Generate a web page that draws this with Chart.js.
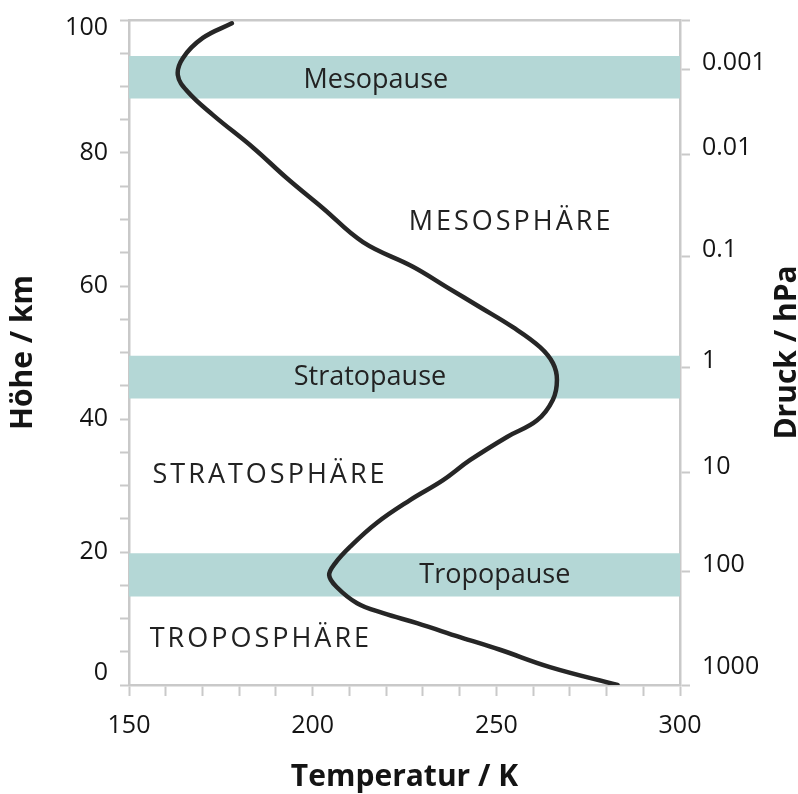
<!DOCTYPE html>
<html lang="de">
<head>
<meta charset="utf-8">
<title>Temperaturprofil der Atmosphäre</title>
<script src="https://cdn.jsdelivr.net/npm/chart.js@4/dist/chart.umd.min.js"></script>
<style>
  html, body { margin: 0; padding: 0; background: #fff; }
  #wrap { position: relative; width: 798px; height: 794px; }
</style>
</head>
<body>
<div id="wrap"><canvas id="chart"></canvas></div>
<script>
// Temperaturprofil: Höhe in km, Temperatur in K
const heights = [0, 2.7, 5.3, 7.2, 9.3, 10.8, 12.3, 14.7, 16.5, 18.3, 20.8, 24.4, 27.8, 30.8, 33.8, 37.3, 39.8, 42.9, 45.9, 48.4, 50.8, 53.8, 56.8, 59.8, 62.9, 66.6, 71.7, 76.2, 80.8, 85.7, 89.2, 91.7, 94.3, 97.3, 99.5]
const temps   = [283, 264.6, 251, 240.1, 228.4, 219.2, 212.1, 206.6, 204.5, 206.1, 210.2, 217.5, 226.5, 235.5, 242.8, 252.9, 261.1, 265.4, 266.5, 265.4, 261.9, 254.5, 245.6, 236.6, 227.3, 213.7, 202.8, 193, 183.8, 172.9, 166, 163.3, 164.7, 170.1, 178]

// Pausen (Bänder) in km
const bandNames  = ['Mesopause', 'Stratopause', 'Tropopause']
const bandTop    = [94.6, 49.5, 19.8]
const bandBottom = [88.2, 43.1, 13.3]
const bandLabelT = [217.2, 215.6, 249.6]
const bandLabelH = [89.8, 45.1, 15.4]

// Schichten
const zoneNames  = ['MESOSPHÄRE', 'STRATOSPHÄRE', 'TROPOSPHÄRE']
const zoneLabelT = [254, 188.4, 185.9]
const zoneLabelH = [68.4, 30.4, 5.7]

// Achsen
const tempTicks       = [150, 200, 250, 300]
const heightTicks     = [0, 20, 40, 60, 80, 100]
const pressureLabels  = ['1000', '100', '10', '1', '0.1', '0.01', '0.001']
const pressureHeights = [0, 17.1, 31.9, 47.8, 64.5, 79.8, 92.6]

const axisGrey  = '#c9c9c9'
const bandColor = '#b4d7d6'
const textColor = '#141414'

Chart.defaults.font.family = '"Open Sans", sans-serif'
Chart.defaults.font.weight = '500'
Chart.defaults.color = textColor

const textPlugin = {
  id: 'atmoText',
  afterDatasetsDraw(chart) {
    const { ctx, scales: { x, y } } = chart
    ctx.save()
    ctx.fillStyle = '#222'
    ctx.textAlign = 'center'
    ctx.textBaseline = 'alphabetic'
    ctx.font = '500 27px "Open Sans"'
    bandNames.forEach((name, i) => {
      ctx.fillText(name, x.getPixelForValue(bandLabelT[i]), y.getPixelForValue(bandLabelH[i]))
    })
    ctx.letterSpacing = '3px'
    zoneNames.forEach((name, i) => {
      ctx.fillText(name, x.getPixelForValue(zoneLabelT[i]), y.getPixelForValue(zoneLabelH[i]))
    })
    ctx.restore()
  },
  afterDraw(chart) {
    // rechter Achsentitel liest von unten nach oben
    const { ctx, chartArea } = chart
    ctx.save()
    ctx.translate(796, (chartArea.top + chartArea.bottom) / 2)
    ctx.rotate(-Math.PI / 2)
    ctx.fillStyle = textColor
    ctx.font = 'bold 30px "Open Sans"'
    ctx.textAlign = 'center'
    ctx.textBaseline = 'alphabetic'
    ctx.fillText('Druck / hPa', 0, 0)
    ctx.restore()
  }
}

const bandSets = bandNames.map((name, i) => ({
  label: name,
  data: [{ x: 150, y: bandTop[i] }, { x: 300, y: bandTop[i] }],
  showLine: true,
  borderWidth: 0,
  borderColor: 'rgba(0,0,0,0)',
  backgroundColor: bandColor,
  pointRadius: 0,
  fill: { value: bandBottom[i] },
  order: 2
}))

const grid = (len) => ({ drawOnChartArea: false, drawTicks: true, tickLength: len, tickColor: axisGrey, tickWidth: 2 })
const border = { color: axisGrey, width: 2.5 }
// Randbeschriftungen sollen den Plotbereich nicht verschieben
const fixSize = (w, h) => s => {
  if (w != null) s.width = w
  if (h != null) s.height = h
  s.paddingTop = 0
  s.paddingBottom = 0
  s.paddingLeft = 0
  s.paddingRight = 0
}

new Chart(document.getElementById('chart'), {
  type: 'scatter',
  data: {
    datasets: [
      {
        label: 'Temperatur',
        data: temps.map((t, i) => ({ x: t, y: heights[i] })),
        showLine: true,
        borderColor: '#262626',
        borderWidth: 4.5,
        borderCapStyle: 'round',
        borderJoinStyle: 'round',
        pointRadius: 0,
        tension: 0.4,
        fill: false,
        order: 0
      },
      ...bandSets
    ]
  },
  options: {
    responsive: true,
    maintainAspectRatio: false,
    animation: false,
    layout: { padding: 0 },
    plugins: { legend: { display: false }, tooltip: { enabled: false } },
    scales: {
      x: {
        type: 'linear', position: 'bottom', min: 150, max: 300,
        ticks: {
          stepSize: 10, maxTicksLimit: 100, autoSkip: false, maxRotation: 0, padding: 15,
          color: textColor, font: { size: 25 },
          callback: v => tempTicks.includes(v) ? String(v) : ''
        },
        grid: grid(11),
        border,
        title: { display: true, text: 'Temperatur / K', color: textColor, font: { size: 30, weight: 'bold', lineHeight: 1.1 }, padding: { top: 0, bottom: 0 } },
        afterFit: fixSize(null, 109)
      },
      xTop: {
        type: 'linear', position: 'top', min: 150, max: 300,
        ticks: { display: false },
        grid: { drawOnChartArea: false, drawTicks: false },
        border,
        afterFit: fixSize(null, 20)
      },
      y: {
        type: 'linear', position: 'left', min: 0, max: 100,
        ticks: {
          stepSize: 5, maxTicksLimit: 100, autoSkip: false, padding: 12, color: textColor,
          font: c => ({ size: 25, weight: '500', lineHeight: c.tick && c.tick.value === 0 ? 1.0 : (c.tick && c.tick.value === 100 ? 0.6 : 1.2) }),
          callback: v => {
            if (!heightTicks.includes(v)) return ''
            if (v === 0) return ['0', '']
            if (v === 100) return ['', '100']
            return String(v)
          }
        },
        grid: grid(9),
        border,
        title: { display: true, text: 'Höhe / km', color: textColor, font: { size: 30, weight: 'bold' }, padding: { top: 5, bottom: 0 } },
        afterFit: fixSize(129, null)
      },
      y2: {
        type: 'linear', position: 'right', min: 0, max: 100,
        afterBuildTicks: s => { s.ticks = [...pressureHeights, 100].map(v => ({ value: v })) },
        ticks: {
          autoSkip: false, padding: 12, labelOffset: -6, color: textColor,
          font: c => ({ size: 25, weight: '500', lineHeight: c.index === 0 ? 1.0 : 1.2 }),
          callback: (v, i) => {
            if (i >= pressureLabels.length) return ''
            return i === 0 ? [pressureLabels[i], ''] : pressureLabels[i]
          }
        },
        grid: grid(10),
        border,
        afterFit: fixSize(118, null)
      }
    }
  },
  plugins: [textPlugin]
})
</script>
</body>
</html>
